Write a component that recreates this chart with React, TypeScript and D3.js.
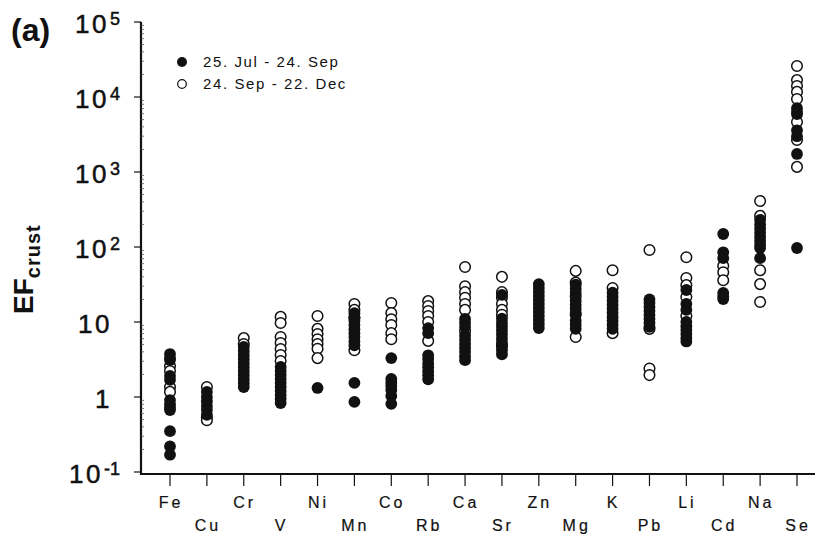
import * as d3 from "d3";
import { useEffect, useRef } from "react";

const elements = ["Fe", "Cu", "Cr", "V", "Ni", "Mn", "Co", "Rb", "Ca", "Sr", "Zn", "Mg", "K", "Pb", "Li", "Cd", "Na", "Se"];

// 25. Jul - 24. Sep (filled circles), one list per element
const julSep = [
  [3.74, 3.3, 3.11, 1.91, 1.69, 0.91, 0.8, 0.72, 0.67, 0.35, 0.22, 0.17],
  [1.17, 1.0, 0.88, 0.76, 0.67, 0.58],
  [4.65, 4.11, 3.64, 3.22, 2.84, 2.51, 2.22, 1.97, 1.74, 1.54, 1.36],
  [2.51, 2.22, 1.97, 1.74, 1.54, 1.36, 1.2, 1.06, 0.94, 0.83],
  [1.32],
  [13.1, 11.6, 10.3, 9.1, 8.0, 7.1, 6.3, 5.5, 4.9, 1.54, 0.86],
  [3.3, 1.74, 1.55, 1.4, 1.24, 1.03, 0.81],
  [8.3, 7.1, 3.6, 3.2, 2.8, 2.5, 2.2, 1.95, 1.72],
  [11.0, 9.7, 8.6, 6.6, 5.8, 5.1, 4.5, 4.0, 3.5, 3.1],
  [23, 11.1, 9.8, 8.7, 7.7, 6.8, 6.0, 5.3, 4.7, 4.2, 3.7],
  [32, 28.5, 25.2, 22.2, 19.7, 17.4, 15.4, 13.6, 12.0, 10.6, 9.4, 8.3],
  [31.4, 27.8, 24.6, 19.2, 17.0, 15.0, 13.3, 10.4, 9.2, 8.1],
  [24.6, 21.7, 19.2, 17.0, 15.0, 13.3, 11.7, 10.4, 9.2, 8.1],
  [20, 18.0, 15.9, 14.1, 12.4, 11.0, 9.7, 8.6],
  [26.7, 17.4, 14.5, 10, 8.8, 7.8, 6.9, 6.1, 5.5],
  [149, 85, 71, 24.4, 22, 20.2],
  [230, 200, 176, 155, 137, 121, 107, 97, 71],
  [7100, 6300, 5900, 3600, 3000, 1740, 97],
];

// 24. Sep - 22. Dec (open circles)
const sepDec = [
  [2.59, 2.22, 1.36, 1.17],
  [1.36, 0.53, 0.49],
  [6.1, 5.1],
  [11.7, 9.7, 6.3, 5.25, 4.37, 3.63, 3.02],
  [12.0, 8.1, 6.9, 5.9, 5.1, 4.4, 3.3],
  [17.4, 14.5, 11.3, 4.2],
  [17.9, 13.2, 10.9, 9.1, 7.1, 5.9],
  [19.0, 16.3, 14.0, 12.0, 10.0, 5.6],
  [54, 30, 25, 21, 17.4, 14.5, 7.6],
  [40, 25, 21, 17.4, 14.5, 12.5, 4.9],
  [],
  [48, 33.5, 22, 12.5, 6.3],
  [49, 28.4, 7.1],
  [91, 8.1, 2.4, 1.96],
  [73, 38.6, 31, 21.5, 12],
  [56, 46, 36],
  [410, 260, 49, 32, 18.5],
  [25900, 16800, 14000, 11700, 9400, 4640, 2670, 1170],
];

const tickValues = [0.1, 1, 10, 100, 1000, 10000, 100000];
const tickBase = ["10", "1", "10", "10", "10", "10", "10"];
const tickExp = ["-1", "", "", "2", "3", "4", "5"];

const legendLabels = ["25. Jul - 24. Sep", "24. Sep - 22. Dec"];

const font = "'Liberation Sans', Arial, Helvetica, sans-serif";

const App = () => {
  const ref = useRef<SVGSVGElement>(null);

  useEffect(() => {
    const svg = d3.select(ref.current);
    svg.selectAll("*").remove();
    drawChart(svg);
  }, []);

  const drawChart = (svg: any) => {
    var left = 141, right = 815, top = 22, bottom = 474;

    var yScale = d3.scaleLog().domain([0.1, 1e5]).range([472, 22]);
    var xScale = d3.scalePoint<string>().domain(elements).range([170, 797]);

    // axes lines
    svg.append("line").attr("x1", left).attr("x2", left).attr("y1", top).attr("y2", bottom + 1)
      .attr("stroke", "#111").attr("stroke-width", 2.2);
    svg.append("line").attr("x1", left - 1).attr("x2", right).attr("y1", bottom).attr("y2", bottom)
      .attr("stroke", "#111").attr("stroke-width", 2.2);

    // major y ticks
    svg.append("g").selectAll("line").data(tickValues).join("line")
      .attr("x1", left - 7).attr("x2", left)
      .attr("y1", (d) => yScale(d)).attr("y2", (d) => yScale(d))
      .attr("stroke", "#111").attr("stroke-width", 1.2);

    // minor y ticks (inside)
    var minor: number[] = [];
    for (let e = -1; e < 5; e++) for (let m = 2; m < 10; m++) minor.push(m * Math.pow(10, e));
    svg.append("g").selectAll("line").data(minor).join("line")
      .attr("x1", left).attr("x2", left + 3)
      .attr("y1", (d) => yScale(d)).attr("y2", (d) => yScale(d))
      .attr("stroke", "#555").attr("stroke-width", 0.8);

    // y tick labels
    var labels = svg.append("g").selectAll("text").data(tickValues).join("text")
      .attr("x", (d, i) => (tickExp[i] === "" ? 112 : 120))
      .attr("y", (d) => yScale(d) + 11)
      .attr("text-anchor", "end")
      .attr("font-family", font).attr("font-size", 26)
      .attr("fill", "#111").attr("stroke", "#111").attr("stroke-width", 0.5);
    labels.append("tspan").attr("letter-spacing", 2.5).text((d, i) => tickBase[i]);
    labels.append("tspan").attr("font-size", 18).attr("dy", -8).attr("dx", 1).text((d, i) => tickExp[i]);

    // x ticks + labels
    svg.append("g").selectAll("line").data(elements).join("line")
      .attr("x1", (d) => xScale(d)).attr("x2", (d) => xScale(d))
      .attr("y1", bottom).attr("y2", bottom + 12)
      .attr("stroke", "#111").attr("stroke-width", 1.2);
    svg.append("g").selectAll("text").data(elements).join("text")
      .attr("x", (d) => xScale(d) + 1)
      .attr("y", (d, i) => (i % 2 === 0 ? 508 : 531))
      .attr("text-anchor", "middle")
      .attr("font-family", font).attr("font-size", 16).attr("letter-spacing", 3)
      .attr("fill", "#111").attr("stroke", "#111").attr("stroke-width", 0.2)
      .text((d) => d);

    // panel label
    svg.append("text").attr("x", 11).attr("y", 41)
      .attr("font-family", font).attr("font-size", 32).attr("font-weight", "bold")
      .attr("fill", "#111").text("(a)");

    // y axis title
    var title = svg.append("text")
      .attr("transform", "translate(33,314) rotate(-90)")
      .attr("font-family", font).attr("font-weight", "bold").attr("fill", "#111");
    title.append("tspan").attr("font-size", 28).text("EF");
    title.append("tspan").attr("font-size", 20).attr("dy", 7).attr("letter-spacing", 1).text("crust");

    var r = 5.3;

    // open circles first, filled on top
    var openPts = sepDec.flatMap((vals, i) => vals.map((v) => ({ key: elements[i], value: v })));
    var filledPts = julSep.flatMap((vals, i) => vals.map((v) => ({ key: elements[i], value: v })));

    svg.append("g").selectAll("circle").data(openPts).join("circle")
      .attr("cx", (d) => xScale(d.key)).attr("cy", (d) => yScale(d.value))
      .attr("r", r).attr("fill", "white").attr("stroke", "#111").attr("stroke-width", 1.5);

    svg.append("g").selectAll("circle").data(filledPts).join("circle")
      .attr("cx", (d) => xScale(d.key)).attr("cy", (d) => yScale(d.value))
      .attr("r", r + 0.6).attr("fill", "#111");

    // legend
    var legend = svg.append("g").attr("font-family", font).attr("font-size", 15).attr("fill", "#111");
    legendLabels.forEach((t, i) => {
      var ly = 62 + i * 22;
      legend.append("circle").attr("cx", 182).attr("cy", ly).attr("r", i === 0 ? 5 : 4.3)
        .attr("fill", i === 0 ? "#111" : "white").attr("stroke", "#111").attr("stroke-width", i === 0 ? 0 : 1.2);
      legend.append("text").attr("x", 203).attr("y", ly + 5).attr("letter-spacing", 1.6).text(t);
    });
  };

  return (
    <svg ref={ref} width={818} height={538}
      style={{ position: "absolute", left: 0, top: 0, background: "white" }} />
  );
};

export default App;
